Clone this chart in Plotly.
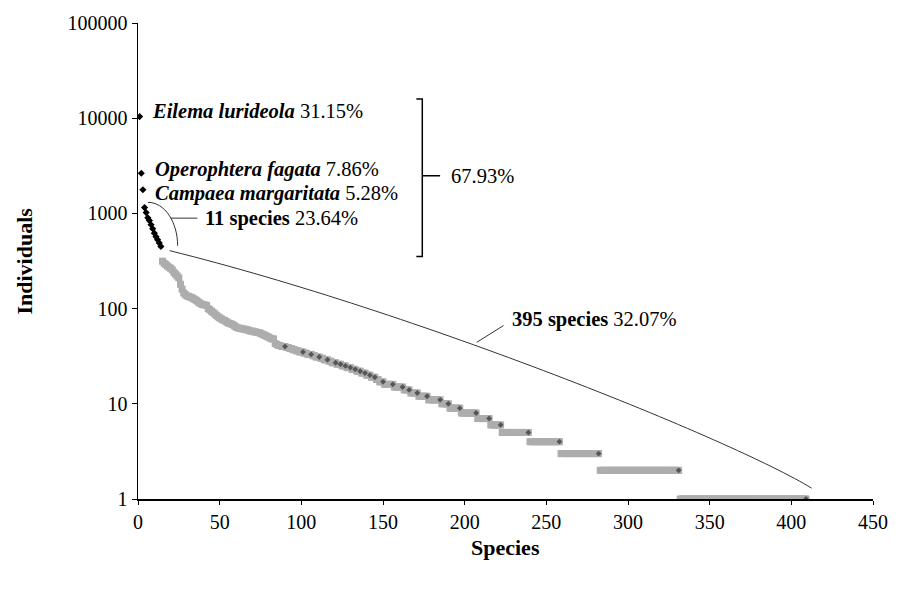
import plotly.graph_objects as go

# ---------------- data ----------------
top3_names = ["Eilema lurideola", "Operophtera fagata", "Campaea margaritata"]
top3_pct = ["31.15%", "7.86%", "5.28%"]
top3_values = [10400, 2640, 1770]
next11_values = [1150, 1020, 900, 840, 760, 690, 620, 570, 530, 490, 450]
rest_head_values = [
    315, 300, 290, 280, 272, 265, 255, 240, 230, 220, 210, 180, 160, 146,
    140, 136, 134, 132, 130, 127, 124, 121, 117, 114, 111, 110, 109, 108,
    100, 97, 94, 91, 88, 85, 82, 80,
    78, 76, 75, 73, 71, 70, 69, 68,
    66, 64, 63, 62, 62, 61, 61, 60, 60,
    59, 58, 58, 57, 57, 56, 56, 55,
    54, 53, 52, 51, 50, 49, 48, 48,
    43, 42, 41, 41, 40, 40, 40, 39, 39,
    38, 38, 37, 37, 36, 36, 35, 35, 35, 34, 34, 33,
    33, 33, 32, 32, 31, 31, 31, 30, 30, 29, 29, 29, 28, 28, 27, 27, 27, 26,
    26, 26, 25, 25, 25, 24, 24, 24, 23, 23, 23, 22, 22, 22, 21, 21, 21,
    20, 20, 20, 19, 19, 19, 18, 18, 17, 17, 17,
]
tail_levels = [16, 15, 14, 13, 12, 11, 10, 9, 8, 7, 6, 5, 4, 3, 2, 1]
tail_counts = [6, 6, 4, 5, 6, 8, 5, 7, 10, 8, 7, 17, 19, 24, 49, 78]

x_ticks = [0, 50, 100, 150, 200, 250, 300, 350, 400, 450]
y_ticks = [1, 10, 100, 1000, 10000, 100000]
y_tick_labels = ["1", "10", "100", "1000", "10000", "100000"]

group_labels = ["11 species", "395 species"]
group_pct = ["23.64%", "32.07%"]
dominant_pct = "67.93%"

# ---------------- derived series ----------------
rest_values = list(rest_head_values)
for lvl, cnt in zip(tail_levels, tail_counts):
    rest_values += [lvl] * cnt

black_values = top3_values + next11_values
black_ranks = list(range(1, len(black_values) + 1))
rest_ranks = list(range(len(black_values) + 1, len(black_values) + len(rest_values) + 1))

# last rank of each run of tied values (run length >= 3)
end_x, end_y = [], []
i = 0
while i < len(rest_values):
    j = i
    while j + 1 < len(rest_values) and rest_values[j + 1] == rest_values[i]:
        j += 1
    if j - i + 1 >= 3:
        end_x.append(rest_ranks[j])
        end_y.append(rest_values[j])
    i = j + 1

# ---------------- layout geometry (pixels) ----------------
W, H = 900, 590
L, R, T, B = 138, 20, 16, 91
PW, PH = W - L - R, H - T - B


def px(x):
    return (x - L) / PW


def py(y):
    return (H - B - y) / PH


def pt(x, y):
    return f"{px(x):.5f},{py(y):.5f}"


FONT = "Liberation Serif, Times New Roman, serif"

fig = go.Figure()
fig.add_trace(go.Scatter(
    x=rest_ranks, y=rest_values, mode="markers",
    marker=dict(symbol="square", size=7, color="#adadad", line=dict(width=0)),
    hoverinfo="skip", showlegend=False))
fig.add_trace(go.Scatter(
    x=end_x, y=end_y, mode="markers",
    marker=dict(symbol="diamond", size=4.5, color="#555555", line=dict(width=0)),
    hoverinfo="skip", showlegend=False))
fig.add_trace(go.Scatter(
    x=black_ranks, y=black_values, mode="markers",
    marker=dict(symbol="diamond", size=5.5, color="#000000", line=dict(width=0)),
    hoverinfo="skip", showlegend=False))

shapes = []
line_thin = dict(color="#333333", width=1)
# arc around the 11 species
shapes.append(dict(type="path", xref="paper", yref="paper",
                   path=f"M {pt(148,198)} C {pt(165,198)} {pt(178,218)} {pt(178,242)}",
                   line=line_thin))
# leader for 11 species
shapes.append(dict(type="line", xref="paper", yref="paper",
                   x0=px(171), y0=py(214), x1=px(198), y1=py(214), line=line_thin))
# long arc over 395 species
shapes.append(dict(type="path", xref="paper", yref="paper",
                   path=f"M {pt(170,247)} C {pt(420,309.5)} {pt(740,440)} {pt(818,488)}",
                   line=line_thin))
# leader for 395 species
shapes.append(dict(type="line", xref="paper", yref="paper",
                   x0=px(480), y0=py(340), x1=px(507), y1=py(323), line=line_thin))
# bracket
shapes.append(dict(type="path", xref="paper", yref="paper",
                   path=f"M {pt(419,93)} L {pt(425,93)} L {pt(425,253)} L {pt(419,253)}",
                   line=dict(color="#000000", width=1.5)))
shapes.append(dict(type="line", xref="paper", yref="paper",
                   x0=px(425), y0=py(171), x1=px(443), y1=py(171),
                   line=dict(color="#000000", width=1.5)))

ann_font = dict(family=FONT, size=20.5, color="#000000")
annotations = []
name_pos = [(151, 105), (154, 165), (154, 189)]
for name, pct, (ax, ay) in zip(top3_names, top3_pct, name_pos):
    annotations.append(dict(xref="paper", yref="paper", x=px(ax), y=py(ay),
                            xanchor="left", yanchor="middle", showarrow=False, borderpad=0,
                            text=f"<b><i>{name}</i></b> {pct}", font=ann_font))
group_pos = [(205, 214), (515, 317)]
for lab, pct, (ax, ay) in zip(group_labels, group_pct, group_pos):
    annotations.append(dict(xref="paper", yref="paper", x=px(ax), y=py(ay),
                            xanchor="left", yanchor="middle", showarrow=False, borderpad=0,
                            text=f"<b>{lab}</b> {pct}", font=ann_font))
annotations.append(dict(xref="paper", yref="paper", x=px(453), y=py(171),
                        xanchor="left", yanchor="middle", showarrow=False, borderpad=0,
                        text=dominant_pct, font=ann_font))
# axis titles
annotations.append(dict(xref="paper", yref="paper", x=px(509), y=py(548),
                        xanchor="center", yanchor="middle", showarrow=False,
                        text="<b>Species</b>", font=dict(family=FONT, size=22, color="#000")))
annotations.append(dict(xref="paper", yref="paper", x=px(23), y=py(258),
                        xanchor="center", yanchor="middle", showarrow=False, textangle=-90,
                        text="<b>Individuals</b>", font=dict(family=FONT, size=22, color="#000")))

fig.update_layout(
    width=W, height=H,
    margin=dict(l=L, r=R, t=T, b=B, pad=0),
    paper_bgcolor="white", plot_bgcolor="white",
    font=dict(family=FONT, size=20, color="#000000"),
    shapes=shapes, annotations=annotations,
    xaxis=dict(range=[0, 450], tickvals=x_ticks, showgrid=False, zeroline=False,
               showline=True, linecolor="#000000", linewidth=1.5,
               ticks="outside", ticklen=4, tickcolor="#000000", tickwidth=1,
               tickfont=dict(family=FONT, size=20, color="#000")),
    yaxis=dict(type="log", range=[0, 5], tickvals=y_ticks, ticktext=y_tick_labels,
               showgrid=False, zeroline=False,
               showline=True, linecolor="#000000", linewidth=1.5,
               ticks="outside", ticklen=5, tickcolor="#000000", tickwidth=1,
               tickfont=dict(family=FONT, size=20, color="#000")),
)

fig.write_html(
    "out.html",
    config={"displayModeBar": False, "staticPlot": True},
    post_script="document.body.style.margin='0px';document.body.style.overflow='hidden';",
)
